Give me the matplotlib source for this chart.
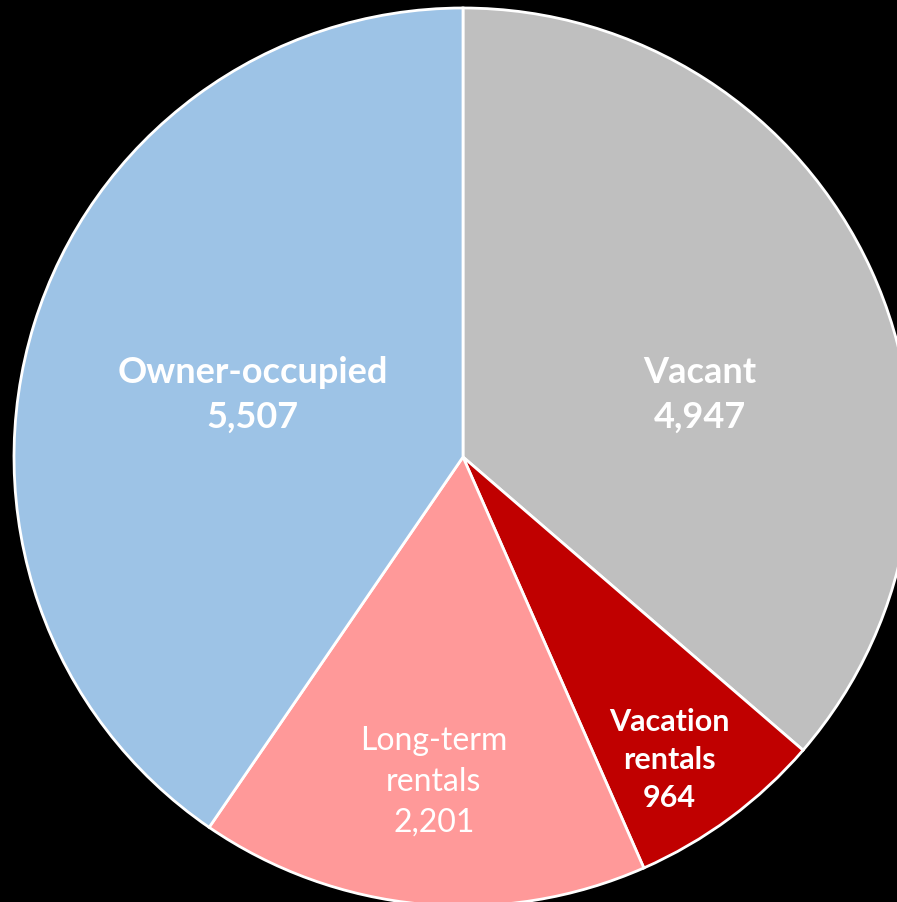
import matplotlib
matplotlib.use("Agg")
import matplotlib.pyplot as plt

# slices, clockwise from 12 o'clock
categories = ['Vacant', 'Vacation\nrentals', 'Long-term\nrentals', 'Owner-occupied']
units = [4947, 964, 2201, 5507]
colors = ['#BFBFBF', '#C00000', '#FF9999', '#9DC3E6']

# label placement (data coords, pie radius = 1) and styling
label_pos = [(0.528, 0.138), (0.459, -0.675), (-0.065, -0.724), (-0.468, 0.138)]
label_size = [26, 22, 23, 26]
label_weight = ['bold', 'bold', 'normal', 'bold']

W, H = 897, 902
cx, cy, r = 463, 457, 449

fig = plt.figure(figsize=(W / 100, H / 100), dpi=100, facecolor='black')
ax = fig.add_axes([0, 0, 1, 1])
ax.set_facecolor('black')

ax.pie(units, colors=colors, startangle=90, counterclock=False, radius=1,
       wedgeprops=dict(edgecolor='white', linewidth=2))

for name, val, (x, y), fs, fw in zip(categories, units, label_pos, label_size, label_weight):
    ax.text(x, y, '{}\n{:,}'.format(name, val), ha='center', va='center',
            color='white', fontsize=fs, fontweight=fw, family='Lato',
            linespacing=1.45)

ax.set_aspect('auto')
ax.set_xlim(-cx / r, (W - cx) / r)
ax.set_ylim(-(H - cy) / r, cy / r)
ax.axis('off')

plt.savefig('out.png', dpi=100, facecolor='black')
